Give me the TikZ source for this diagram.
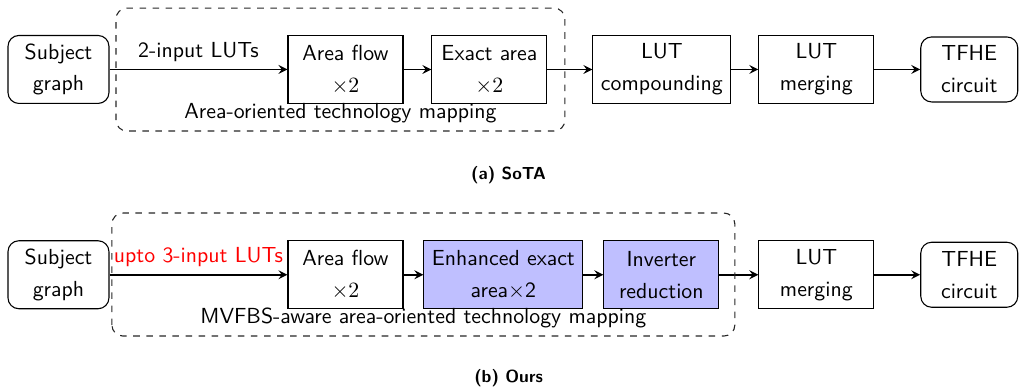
\documentclass[tikz,border=0pt]{standalone}
\usepackage{amsmath}

\tikzset{
  stage/.style={draw, rectangle, line width=0.5pt, align=center, minimum width=1.854cm, minimum height=1.096cm,
    font=\sffamily\linespread{1.22}\selectfont},
  term/.style={stage, rounded corners=5pt},
  newstage/.style={stage, fill=blue!25},
  flow/.style={-stealth, thick},
  group/.style={draw=black!85, line width=0.5pt, dashed, rounded corners=5pt},
  subcap/.style={font=\sffamily\bfseries\footnotesize}
}

\begin{document}
\begin{tikzpicture}[font=\sffamily]
  \useasboundingbox (0,0) rectangle (16.43,6.24);

  % (a) flow
  \node[term, minimum width=1.628cm] (subjA) at (0.943,5.12) {Subject\\graph};
  \node[stage] (areaA) at (5.570,5.12) {Area flow\\$\times2$};
  \node[stage] (exactA) at (7.891,5.12) {Exact area\\$\times2$};
  \node[stage, minimum width=2.225cm] (compA) at (10.672,5.12) {LUT\\compounding};
  \node[stage] (mergeA) at (13.162,5.12) {LUT\\merging};
  \node[term, minimum width=1.564cm, minimum height=1.048cm] (tfheA) at (15.628,5.12) {TFHE\\circuit};

  \draw[flow] (subjA) -- node[above] (lutA) {2-input LUTs} (areaA);
  \draw[flow] (areaA) -- (exactA);
  \draw[flow] (exactA) -- (compA);
  \draw[flow] (compA) -- (mergeA);
  \draw[flow] (mergeA) -- (tfheA);

  \draw[group] (1.870,4.127) rectangle (9.108,6.109);
  \node[above] (mapA) at (5.489,4.127) {Area-oriented technology mapping};

  \node[subcap] (capA) at (8.2,3.42) {(a) SoTA};

  % (b) flow
  \node[term, minimum width=1.628cm] (subjB) at (0.943,1.81) {Subject\\graph};
  \node[stage] (areaB) at (5.570,1.81) {Area flow\\$\times2$};
  \node[newstage, minimum width=2.563cm] (exactB) at (8.116,1.81) {Enhanced exact\\area$\times$2};
  \node[newstage] (invB) at (10.663,1.81) {Inverter\\reduction};
  \node[stage] (mergeB) at (13.162,1.81) {LUT\\merging};
  \node[term, minimum width=1.564cm, minimum height=1.048cm] (tfheB) at (15.628,1.81) {TFHE\\circuit};

  \draw[flow] (subjB) -- node[above, text=red] (lutB) {upto 3-input LUTs} (areaB);
  \draw[flow] (areaB) -- (exactB);
  \draw[flow] (exactB) -- (invB);
  \draw[flow] (invB) -- (mergeB);
  \draw[flow] (mergeB) -- (tfheB);

  \draw[group] (1.805,0.822) rectangle (11.848,2.805);
  \node[above] (mapB) at (6.826,0.822) {MVFBS-aware area-oriented technology mapping};

  \node[subcap] (capB) at (8.2,0.14) {(b) Ours};
\end{tikzpicture}
\end{document}
